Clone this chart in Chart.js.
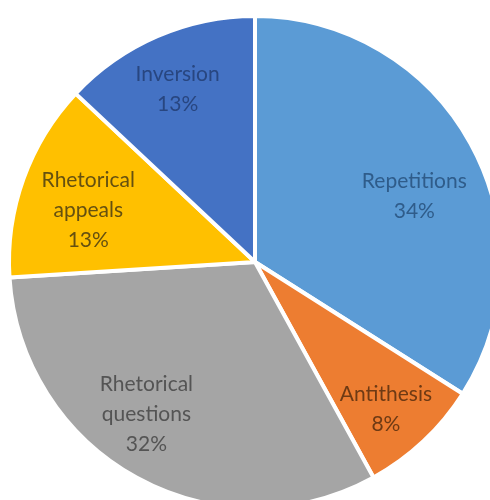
<!DOCTYPE html>
<html>
<head>
<meta charset="utf-8">
<script src="https://cdn.jsdelivr.net/npm/chart.js@4/dist/chart.umd.min.js"></script>
<style>
  html, body { margin: 0; padding: 0; background: #fff; overflow: hidden; }
  #wrap { width: 490px; height: 500px; }
</style>
</head>
<body>
<div id="wrap"><canvas id="rhetoricChart" width="490" height="500"></canvas></div>
<script>
const categories = ['Repetitions', 'Antithesis', 'Rhetorical questions', 'Rhetorical appeals', 'Inversion'];
const shares = [34, 8, 32, 13, 13];
const labelLines = [['Repetitions'], ['Antithesis'], ['Rhetorical', 'questions'], ['Rhetorical', 'appeals'], ['Inversion']];
const sliceColors = ['#5B9BD5', '#ED7D31', '#A5A5A5', '#FFC000', '#4472C4'];
const textColors = ['#2F5C8A', '#6E3A14', '#545454', '#655010', '#284680'];

// where each label sits: fraction of radius and a small angle nudge (deg)
const labelRadius = [0.70, 0.80, 0.76, 0.71, 0.77];
const labelNudge = [6.5, 1.5, 6.7, -2.5, -0.7];

const sliceLabels = {
  id: 'sliceLabels',
  afterDatasetsDraw(chart) {
    const ctx = chart.ctx;
    const meta = chart.getDatasetMeta(0);
    ctx.save();
    ctx.font = '21px Lato, "Open Sans", sans-serif';
    ctx.textAlign = 'center';
    ctx.textBaseline = 'middle';
    meta.data.forEach(function (arc, i) {
      const p = arc.getProps(['x', 'y', 'startAngle', 'endAngle', 'outerRadius'], true);
      const mid = (p.startAngle + p.endAngle) / 2 + labelNudge[i] * Math.PI / 180;
      const r = p.outerRadius * labelRadius[i];
      const cx = p.x + Math.cos(mid) * r;
      const cy = p.y + Math.sin(mid) * r;
      const lines = labelLines[i].concat([shares[i] + '%']);
      const lh = 30;
      const top = cy - (lines.length - 1) * lh / 2;
      ctx.fillStyle = textColors[i];
      lines.forEach(function (t, j) {
        ctx.fillText(t, cx, top + j * lh);
      });
    });
    ctx.restore();
  }
};

const ctx = document.getElementById('rhetoricChart').getContext('2d');
const rhetoricChart = new Chart(ctx, {
  type: 'pie',
  data: {
    labels: categories,
    datasets: [{
      data: shares,
      backgroundColor: sliceColors,
      borderColor: '#ffffff',
      borderWidth: 4
    }]
  },
  options: {
    responsive: false,
    animation: false,
    radius: 246,
    layout: { padding: { left: 20, top: 24, right: 0, bottom: 0 } },
    plugins: {
      legend: { display: false },
      tooltip: { enabled: false }
    }
  },
  plugins: [sliceLabels]
});
</script>
</body>
</html>
